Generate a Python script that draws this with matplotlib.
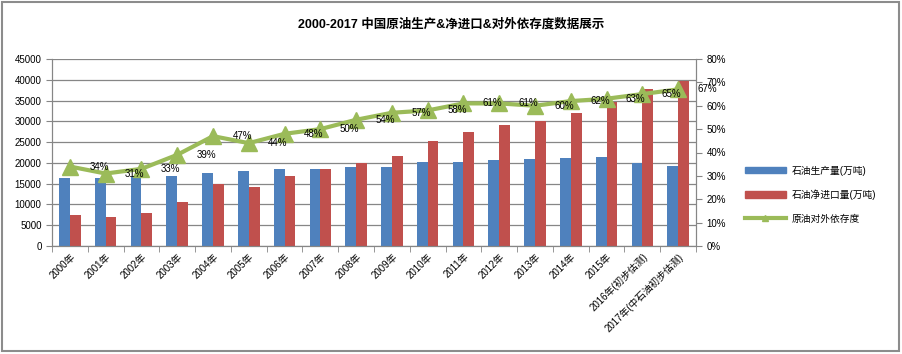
import matplotlib
matplotlib.use("Agg")
import matplotlib.pyplot as plt
import numpy as np
from matplotlib.patches import Patch, Rectangle
from matplotlib.lines import Line2D

plt.rcParams['font.family'] = ['Liberation Sans', 'Noto Sans CJK SC', 'DejaVu Sans']

years = ["2000年", "2001年", "2002年", "2003年", "2004年", "2005年", "2006年", "2007年",
         "2008年", "2009年", "2010年", "2011年", "2012年", "2013年", "2014年", "2015年",
         "2016年(初步估测)", "2017年(中石油初步估测)"]
production = [16300, 16400, 16700, 16900, 17600, 18100, 18500, 18600,
              19000, 18900, 20300, 20300, 20700, 20900, 21200, 21500, 20000, 19200]
net_import = [7500, 7000, 7900, 10600, 14900, 14200, 16800, 18500,
              19900, 21700, 25300, 27400, 29100, 30100, 32000, 34700, 37800, 39700]
dependence = [34, 31, 33, 39, 47, 44, 48, 50, 54, 57, 58, 61, 61, 60, 62, 63, 65, 67]

title = "2000-2017 中国原油生产&净进口&对外依存度数据展示"
s_prod = "石油生产量(万吨)"
s_imp = "石油净进口量(万吨)"
s_dep = "原油对外依存度"

c_blue = "#4F81BD"
c_red = "#C0504D"
c_green = "#9BBB59"
c_grid = "#868686"

fig = plt.figure(figsize=(9.03, 3.54), dpi=100)
ax = fig.add_axes([52/903, 1-246/354, (696-52)/903, (246-59)/354])
ax2 = ax.twinx()

n = len(years)
x = np.arange(n)
w = 0.3
ax.bar(x - w/2, production, width=w, color=c_blue, zorder=2)
ax.bar(x + w/2, net_import, width=w, color=c_red, zorder=2)

ax.set_xlim(-0.5, n - 0.5)
ax.set_ylim(0, 45000)
ax.set_yticks(np.arange(0, 45001, 5000))
ax.yaxis.grid(True, color=c_grid, lw=0.9, zorder=0)
ax.set_axisbelow(True)
ax.set_xticks(x)
ax.set_xticklabels(years, rotation=45, ha='right', rotation_mode='anchor', fontsize=7)
ax.set_xticks(np.arange(-0.5, n, 1), minor=True)
ax.tick_params(axis='x', which='major', length=0, pad=4)
ax.tick_params(axis='x', which='minor', length=4, color=c_grid, direction='out')
ax.tick_params(axis='y', labelsize=7, length=4, color=c_grid, direction='out')
for sp in ['top']:
    ax.spines[sp].set_visible(False)
    ax2.spines[sp].set_visible(False)
for sp in ['left', 'bottom', 'right']:
    ax.spines[sp].set_color(c_grid)
    ax2.spines[sp].set_color(c_grid)

ax2.plot(x, dependence, color=c_green, lw=3, marker='^', markersize=11, zorder=3)
ax2.set_ylim(0, 80)
ax2.set_yticks(np.arange(0, 81, 10))
ax2.set_yticklabels([f"{v}%" for v in range(0, 81, 10)])
ax2.tick_params(axis='y', labelsize=7, length=4, color=c_grid, direction='out')
for xi, v in zip(x, dependence):
    ax2.annotate(f"{v}%", (xi, v), xytext=(21, 0), textcoords='offset points',
                 ha='center', va='center', fontsize=7, color='black', zorder=4)

fig.text(0.5, 1-25/354, title, ha='center', va='center', fontsize=9, fontweight='bold')

handles = [Patch(color=c_blue), Patch(color=c_red),
           Line2D([], [], color=c_green, lw=3, marker='^', markersize=5)]
fig.legend(handles, [s_prod, s_imp, s_dep], loc='center left',
           bbox_to_anchor=(745/903, 1-194.5/354), frameon=False, fontsize=7,
           handlelength=4.2, handleheight=0.6, labelspacing=1.4, handletextpad=0.6,
           borderpad=0, borderaxespad=0)

fig.patches.append(Rectangle((2/903, 3/354), 897/903, 349/354, transform=fig.transFigure,
                             fill=False, edgecolor='#8c8c8c', lw=1.5))

fig.savefig("out.png", dpi=100)
